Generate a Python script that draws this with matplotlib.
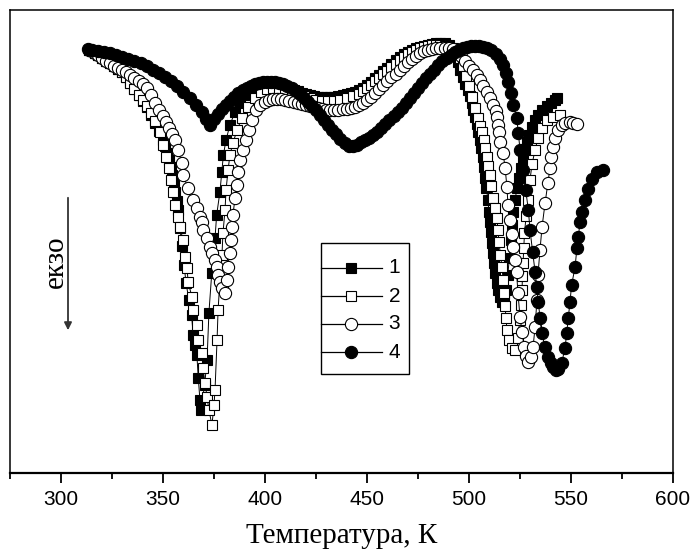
import numpy as np
import matplotlib
matplotlib.use('Agg')
import matplotlib.pyplot as plt
from matplotlib.patches import Rectangle

# DTA curves (arbitrary units, exo down) vs temperature, K
t1 = [313.5, 315, 316.5, 318, 320, 322, 324, 326, 328, 330, 332, 334, 336, 338, 340, 342, 344, 346, 348,
      350.0, 351.0, 352.0, 352.9, 353.7, 354.4, 355.2, 355.9, 356.7, 357.4, 358.3, 359.3, 360.3, 361.3,
      362.7, 364.0, 364.8, 365.7, 366.6, 367.3, 368.1, 368.6, 370.4, 371.6, 372.5, 373.9, 375.5, 376.3,
      377.9, 378.8, 379.6, 380.9, 382.8, 385.3, 387.7, 390, 392, 394, 396, 398, 400, 402, 404, 406, 408,
      410, 412, 414, 416, 418, 420, 422, 424, 426, 428, 430, 432, 434, 436, 438, 440, 442, 444, 446, 448,
      450, 452, 454, 456, 458, 460, 462, 464, 466, 468, 470, 472, 474, 476, 478, 480, 482, 484, 486, 488,
      490, 492, 493.5, 494.6, 495.8, 497.1, 498.2, 499.3, 500.5, 501.3, 502.2, 503.0, 503.9, 504.6, 505.4,
      506.1, 506.9, 507.4, 508.0, 508.5, 509.3, 509.8, 510.3, 510.8, 511.3, 511.8, 512.3, 512.7, 513.5,
      514.2, 515.2, 516.2, 517.2, 518.2, 519.0, 519.8, 520.5, 521.1, 521.8, 522.6, 523.5, 524.5, 525.5,
      526.5, 527.5, 528.5, 529.5, 531.0, 532.5, 534.0, 536.0, 538.0, 540.0, 542.0, 543.0]
v1 = [423, 422, 420, 418, 415, 412, 410, 407, 404, 401, 396, 390, 384, 378, 372, 366, 358, 350, 342,
      333, 327, 320, 313, 306, 298, 290, 281, 272, 263, 245, 227, 208, 190,
      173, 158, 138, 128, 118, 95, 73, 63, 88, 113, 160, 200, 235, 258,
      281, 301, 318, 333, 348, 361, 370, 378, 383, 386, 388, 389, 390, 390, 389, 388, 387,
      386, 385, 383, 382, 380, 379, 378, 377, 376, 376, 376, 376, 376, 377, 378, 379, 380, 381, 383, 385,
      388, 391, 395, 398, 402, 405, 409, 413, 416, 419, 421, 423, 425, 426, 427, 428, 429, 430, 430, 430,
      428, 425, 418, 411, 403, 396, 389, 383, 377, 370, 363, 356, 349, 341, 333,
      325, 316, 306, 295, 285, 273, 261, 251, 241, 230, 220, 210, 200, 190,
      183, 176, 171, 173, 183, 198, 215, 233, 248, 261, 273, 285, 295, 305,
      315, 323, 331, 338, 346, 353, 358, 363, 367, 370, 373, 375]

t2 = [313.5, 315, 316.5, 318, 320, 322, 324, 326, 328, 330, 332, 334, 336, 338, 340, 342, 344, 346,
      348.5, 350.0, 351.5, 352.9, 353.9, 354.9, 355.9, 357.4, 358.3, 359.8, 360.8, 361.8, 362.3, 364.2,
      364.7, 366.7, 367.2, 369.1, 369.6, 370.6, 371.6, 372.5, 374.0, 375.0, 375.5, 376.5, 377.0, 377.9,
      378.9, 379.4, 380.4, 380.9, 381.9, 382.8, 384.3, 386.3, 388.7, 391.7, 395, 398, 401, 404, 407, 410,
      413, 416, 419, 422, 425, 428, 431, 434, 437, 440, 443, 446, 448, 450, 452, 454, 456, 458, 460, 462,
      464, 466, 468, 470, 472, 474, 476, 478, 480, 482, 484, 486, 488, 490, 492, 494, 495.5, 497, 498.5,
      500, 501.5, 503, 504.5, 505.6, 506.4, 507.2, 508.0, 508.7, 509.5, 510.3, 511.0, 511.8, 512.7, 513.7,
      514.2, 514.7, 515.4, 516.2, 516.7, 517.2, 517.7, 518.2, 518.6, 519.5, 521.1, 522.5, 523.8, 525.0,
      525.5, 526.0, 526.2, 526.5, 526.8, 527.2, 528.0, 528.9, 529.9, 530.9, 532.4, 533.8, 535.8, 538.2,
      541.2, 544.6]
v2 = [423, 422, 420, 418, 415, 412, 410, 407, 404, 401, 396, 390, 384, 378, 373, 367, 360, 352,
      341, 328, 316, 305, 293, 281, 268, 256, 246, 233, 216, 205, 191, 176,
      163, 148, 133, 120, 105, 90, 76, 63, 48, 68, 83, 133, 163, 193,
      218, 240, 263, 283, 303, 318, 330, 343, 355, 366, 375, 381, 384, 385, 385, 383,
      381, 379, 377, 375, 373, 372, 372, 372, 373, 375, 377, 379, 382, 385, 388, 392, 395, 399, 402, 406,
      409, 413, 416, 419, 421, 423, 425, 426, 427, 428, 428, 428, 427, 426, 423, 421, 415, 407, 397,
      387, 376, 365, 355, 347, 341, 333, 325, 316, 307, 298, 287, 275, 265, 255,
      243, 231, 218, 206, 193, 180, 167, 155, 143, 133, 125, 123, 135, 153,
      168, 183, 197, 210, 225, 240, 257, 273, 293, 309, 323, 335, 345, 353,
      356, 358]

t3 = [313.5, 315, 316.5, 318, 320, 322, 324, 326, 328, 330, 332, 334, 336, 338, 340, 342, 344, 346, 348,
      350, 351.5, 353, 354.5, 356, 357.4, 359.3, 359.8, 362.3, 364.7, 366.7, 368.1, 369.1, 369.6, 371.6,
      373.0, 374.0, 375.5, 376.5, 377.0, 377.9, 378.9, 380.4, 381.2, 381.8, 382.6, 383.3, 383.8, 384.3,
      385.3, 386.1, 386.8, 387.7, 389.0, 390.5, 392.0, 393.6, 395.5, 397.5, 400, 402, 404, 406, 408, 410,
      412, 414, 416, 418, 420, 422, 424, 426, 428, 430, 432, 434, 436, 438, 440, 442, 444, 446, 448, 450,
      452, 454, 456, 458, 460, 462, 464, 466, 468, 470, 472, 474, 476, 478, 480, 482, 484, 486, 488, 490,
      492, 494, 496, 498, 500, 502, 504, 505.4, 507, 508.8, 510.3, 511.8, 513.0, 513.7, 514.2, 514.7,
      515.2, 516.7, 517.7, 518.6, 519.1, 520.1, 521.1, 521.8, 522.6, 523.3, 524.0, 525.0, 526.0, 527.0,
      527.8, 528.9, 530.4, 531.4, 532.4, 533.3, 533.8, 534.8, 535.8, 537.3, 538.7, 539.7, 540.2, 541.2,
      542.2, 543.6, 545.5, 547.1, 549.5, 551.0, 553.0]
v3 = [423, 422, 420, 418, 415, 412, 410, 407, 405, 403, 401, 398, 395, 392, 389, 385, 378, 370, 363,
      357, 351, 345, 339, 333, 323, 310, 298, 285, 273, 265, 256, 251, 243, 235,
      226, 220, 213, 206, 198, 191, 185, 180, 193, 206, 220, 233, 246, 258,
      275, 288, 301, 313, 323, 333, 343, 353, 363, 368, 371, 373, 374, 374, 374, 373,
      372, 371, 370, 369, 368, 367, 366, 365, 364, 363, 363, 363, 363, 364, 364, 365, 366, 368, 370, 373,
      376, 380, 384, 388, 392, 396, 399, 403, 407, 411, 414, 417, 420, 422, 423, 424, 425, 425, 425, 425,
      424, 421, 417, 412, 407, 403, 398, 393, 387, 381, 375, 368, 362, 356, 348, 341,
      331, 320, 305, 286, 268, 253, 239, 226, 213, 201, 180, 156, 141, 126,
      117, 111, 116, 126, 146, 173, 198, 223, 246, 270, 290, 305, 316, 326,
      335, 343, 348, 350, 351, 350, 349]

t4 = [313, 315, 318, 321, 324, 327, 330, 333, 336, 339, 342, 345, 348, 351, 354, 357, 360, 363, 366,
      369, 371, 373, 375, 377, 379, 381, 383, 385, 387, 389, 391, 393, 395, 397, 399, 401, 403, 405, 407,
      409, 411, 413, 415, 417, 419, 421, 423, 425, 427, 429, 431, 433, 435, 437, 439, 441, 443, 445, 447,
      449, 451, 453, 455, 457, 459, 461, 463, 465, 467, 469, 471, 473, 475, 477, 479, 481, 483, 485, 487,
      489, 491, 493, 495, 497, 499, 501, 503, 505, 507, 509, 511, 513, 515, 516.5, 518, 519.3, 520.5,
      521.7, 523.4, 524.2, 525.0, 526.6, 527.8, 529.1, 529.9, 531.2, 532.4, 533.2, 534.0, 534.8, 535.6,
      537.3, 538.9, 540.1, 541.3, 542.5, 543.7, 545.4, 547.1, 547.9, 548.7, 549.5, 550.3, 552.0, 552.9,
      553.6, 554.4, 555.6, 557.0, 558.3, 560.2, 562.6, 565.8]
v4 = [424, 423, 422, 421, 420, 418, 416, 414, 412, 410, 407, 403, 400, 396, 392, 387, 381, 375, 368,
      361, 354, 348, 354, 359, 364, 368, 372, 376, 380, 383, 385, 387, 389, 390, 391, 391, 391, 391, 390,
      389, 387, 385, 382, 379, 375, 371, 367, 363, 358, 353, 348, 343, 339, 334, 330, 327, 327, 328, 331,
      333, 335, 338, 341, 345, 349, 353, 357, 361, 365, 370, 375, 380, 385, 390, 395, 399, 403, 408, 412,
      415, 418, 421, 423, 425, 426, 427, 427, 427, 426, 425, 423, 419, 414, 408, 400, 391, 380,
      368, 355, 340, 323, 303, 283, 263, 243, 221, 201, 186, 171, 155, 140,
      126, 116, 110, 106, 103, 104, 110, 125, 140, 155, 171, 188, 206, 225,
      236, 251, 261, 273, 284, 294, 301, 303]

labels = ['1', '2', '3', '4']

fig = plt.figure(figsize=(6.93, 5.54), dpi=100)
ax = fig.add_axes([10 / 693, 81 / 554, 663 / 693, 463 / 554])

sq = dict(marker='s', markersize=6.6, markeredgewidth=0.8, color='black', lw=0.7)
ci = dict(marker='o', markersize=8.8, markeredgewidth=0.8, color='black', lw=0.7)
ax.plot(t1, v1, markerfacecolor='black', **sq)
ax.plot(t2, v2, markerfacecolor='white', **sq)
ax.plot(t3, v3, markerfacecolor='white', **ci)
ax.plot(t4, v4, markerfacecolor='black', **ci)

ax.set_xlim(275, 600)
ax.set_ylim(0, 463)
ax.set_xticks(np.arange(300, 601, 50))
ax.set_xticks(np.arange(275, 601, 50), minor=True)
ax.set_yticks([])
ax.tick_params(axis='x', which='major', direction='out', length=7, width=1.3, pad=5,
               labelsize=15, labelfontfamily='Liberation Sans')
ax.tick_params(axis='x', which='minor', direction='out', length=4, width=1.3)
for s in ax.spines.values():
    s.set_linewidth(1.1)
ax.spines['bottom'].set_linewidth(1.6)
ax.set_xlabel('Температура, К', family='Liberation Serif', size=21, labelpad=10)

# legend drawn by hand: line through marker, number on the right
lx0, lxm, lx1 = 0.469, 0.514, 0.561
ly = [0.443, 0.382, 0.322, 0.261]
styles = [(sq, 'black'), (sq, 'white'), (ci, 'white'), (ci, 'black')]
for y, lab, (st, fc) in zip(ly, labels, styles):
    ax.plot([lx0, lxm, lx1], [y, y, y], transform=ax.transAxes, markevery=[1],
            markerfacecolor=fc, clip_on=False, **{**st, 'lw': 0.9})
    ax.text(0.571, y, lab, transform=ax.transAxes, ha='left', va='center',
            family='Liberation Sans', size=15)
ax.add_patch(Rectangle((0.469, 0.214), 0.133, 0.283, transform=ax.transAxes,
                       fill=False, ec='black', lw=1.0))

# exo direction arrow
ax.annotate('', xy=(68 / 693, 1 - 333 / 554), xytext=(68 / 693, 1 - 195 / 554),
            xycoords='figure fraction', textcoords='figure fraction',
            arrowprops=dict(arrowstyle='-|>', color='#333333', lw=1.3, mutation_scale=11))
fig.text(56 / 693, 1 - 262 / 554, 'екзо', rotation=90, ha='center', va='center',
         family='Liberation Serif', size=21)

fig.savefig('out.png', dpi=100)
